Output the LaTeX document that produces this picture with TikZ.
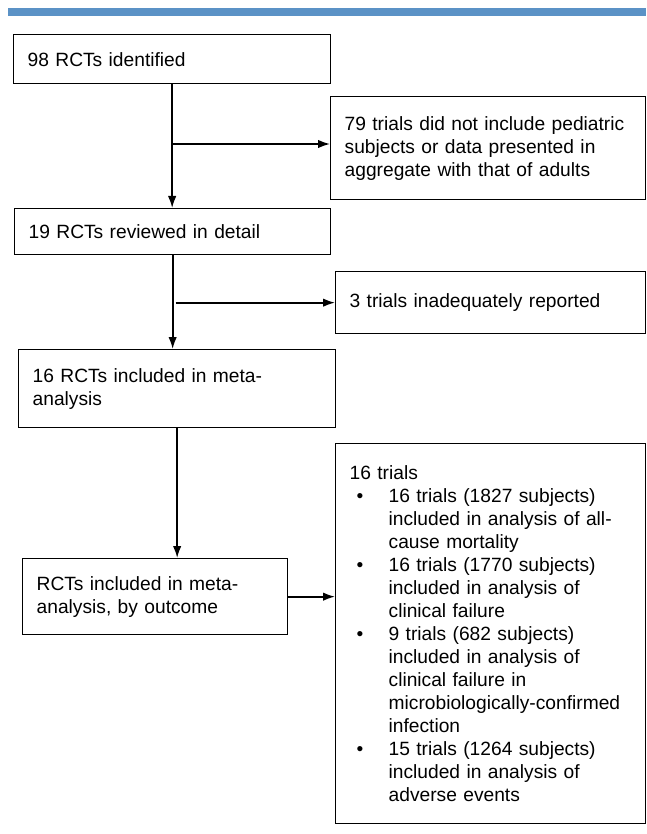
\documentclass[tikz,border=0pt]{standalone}
\usepackage{fontspec}
\setmainfont{Liberation Sans}
\usetikzlibrary{arrows.meta}
\definecolor{barblue}{RGB}{91,146,198}
\tikzset{
	stage/.style={draw, line width=1.3pt, anchor=north west, align=left, inner xsep=14pt, inner ysep=0pt, font=\fontsize{19.2}{23}\selectfont},
	flow/.style={line width=1.7pt, -{Latex[length=12pt,width=8.5pt]}},
}
\newcommand{\bitem}{\makebox[39pt][l]{\hspace{7pt}\textbullet}}
\newcommand{\bcont}{\hspace*{39pt}}

\begin{document}
\begin{tikzpicture}[x=1pt, y=-1pt]
		\fill[white] (0,0) rectangle (646,834);
		\useasboundingbox (0,0) rectangle (646,834);
		\fill[barblue] (8,8) rectangle (646,16);
		%
		\node[stage, text width=289pt, minimum height=49pt] (ident) at (13,34) {98 RCTs identified};
		\node[stage, text width=287pt, minimum height=103pt] (excl) at (330,96) {79 trials did not include pediatric\\subjects or data presented in\\aggregate with that of adults};
		\node[stage, text width=288pt, minimum height=46pt] (review) at (14,208) {19 RCTs reviewed in detail};
		\node[stage, text width=282pt, minimum height=62pt] (inad) at (335,271) {3 trials inadequately reported};
		\node[stage, text width=289pt, minimum height=78pt] (incl) at (18,349) {16 RCTs included in meta-\\analysis};
		\node[stage, text width=237pt, minimum height=76pt] (outc) at (22,558) {RCTs included in meta-\\analysis, by outcome};
		\node[stage, text width=282pt, minimum height=380pt] (trials) at (335,443) {16 trials\\
			\bitem 16 trials (1827 subjects)\\ \bcont included in analysis of all-\\ \bcont cause mortality\\
			\bitem 16 trials (1770 subjects)\\ \bcont included in analysis of\\ \bcont clinical failure\\
			\bitem 9 trials (682 subjects)\\ \bcont included in analysis of\\ \bcont clinical failure in\\ \bcont microbiologically-confirmed\\ \bcont infection\\
			\bitem 15 trials (1264 subjects)\\ \bcont included in analysis of\\ \bcont adverse events\\[8pt]};
		%
		\coordinate (split1) at (ident.south |- 0,144);
		\coordinate (split2) at ([xshift=3pt]review.south |- inad.west);
		\draw[flow] (ident.south) -- (ident.south |- review.north);
		\draw[flow] (split1) -- (split1 -| excl.west);
		\draw[flow] (review.south) -- (review.south |- incl.north);
		\draw[flow] (split2) -- (inad.west);
		\draw[flow] (incl.south) -- (incl.south |- outc.north);
		\draw[flow] (outc.east) -- (outc.east -| trials.west);
\end{tikzpicture}
\end{document}
